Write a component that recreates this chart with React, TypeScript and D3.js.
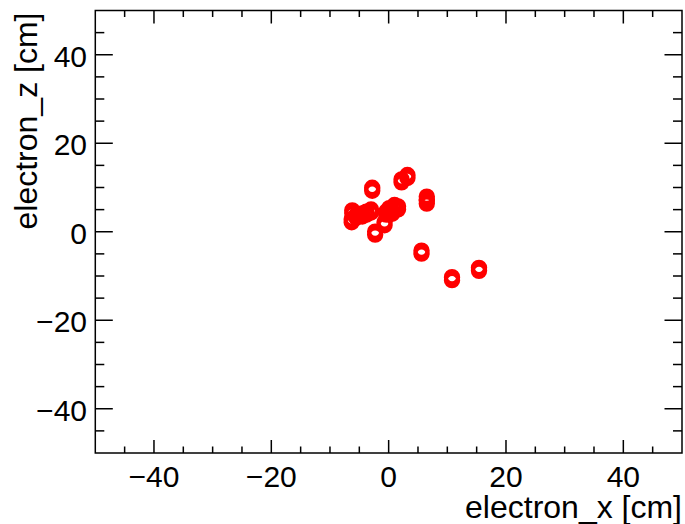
import React from "react";
import * as d3 from "d3";

const xValues = [-6.3, -6.2, -5.5, -4.5, -3.8, -3.0, -2.8, -2.3, -0.7, -0.4, 0.1, 1.0, 1.6, 0.6, 2.2, 3.2, 6.5, 6.5, 5.6, 10.8, 15.4];
const zValues = [2.5, 4.5, 3.5, 3.8, 4.2, 4.7, 9.6, -0.3, 1.8, 4.2, 5.0, 5.7, 5.4, 4.4, 11.5, 12.5, 7.6, 6.7, -4.6, -10.6, -8.5];
const majorTicks = [-40, -20, 0, 20, 40];
const minorTicks = d3.range(-45, 50, 5);
const xTitle = "electron_x [cm]";
const zTitle = "electron_z [cm]";

const W = 685, H = 524;
const L = 95.3, R = 682, T = 10.5, B = 453;

const fmt = (v: number) => (v < 0 ? "\u2212" + Math.abs(v) : String(v));

export default function App() {
  const x = d3.scaleLinear().domain([-50, 50]).range([L, R]);
  const y = d3.scaleLinear().domain([-50, 50]).range([B, T]);
  const font = "'Liberation Sans', Arial, Helvetica, sans-serif";
  const points = xValues.map((v, i) => ({ x: v, z: zValues[i] }));
  const xMaj = 13, xMin = 6.5, yMaj = 17.5, yMin = 9;
  return (
    <svg width={W} height={H} style={{ position: "absolute", left: 0, top: 0, background: "#fff" }}>
      <rect x={0} y={0} width={W} height={H} fill="#fff" />
      <g stroke="#000" strokeWidth={1.5} fill="none">
        <rect x={L} y={T} width={R - L} height={B - T} />
        {minorTicks.map((t) => {
          const isMaj = majorTicks.includes(t);
          const lx = isMaj ? xMaj : xMin;
          const ly = isMaj ? yMaj : yMin;
          return (
            <g key={t}>
              <line x1={x(t)} x2={x(t)} y1={B} y2={B - lx} />
              <line x1={x(t)} x2={x(t)} y1={T} y2={T + lx} />
              <line x1={L} x2={L + ly} y1={y(t)} y2={y(t)} />
              <line x1={R} x2={R - ly} y1={y(t)} y2={y(t)} />
            </g>
          );
        })}
      </g>
      <g fontFamily={font} fontSize={30} fill="#000">
        {majorTicks.map((t) => (
          <text key={"xl" + t} x={x(t)} y={487} textAnchor="middle">{fmt(t)}</text>
        ))}
        {majorTicks.map((t) => (
          <text key={"yl" + t} x={87} y={y(t) + 12} textAnchor="end">{fmt(t)}</text>
        ))}
        <text x={R} y={518} textAnchor="end" fontSize={32}>{xTitle}</text>
        <text transform={`translate(37, ${T + 2}) rotate(-90)`} textAnchor="end" fontSize={32}>{zTitle}</text>
      </g>
      <g stroke="#ff0000" strokeWidth={4} fill="none">
        {points.map((p, i) => (
          <g key={i}>
            <circle cx={x(p.x)} cy={y(p.z) - 1.5} r={6.2} />
            <circle cx={x(p.x)} cy={y(p.z) + 1.5} r={6.2} />
          </g>
        ))}
      </g>
    </svg>
  );
}
